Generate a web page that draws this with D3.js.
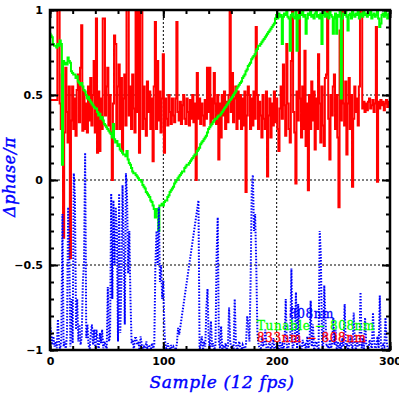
<!DOCTYPE html>
<html>
<head>
<meta charset="utf-8">
<script src="https://cdn.jsdelivr.net/npm/d3@7"></script>
<style>
body { margin: 0; background: #fff; }
svg { display: block; }
</style>
</head>
<body>
<script>
// phase differences in units of pi, stored as hundredths, one value per sample (0..300)
const red833 = [
  47,47,47,47,47,47,47,100,100,45,
  30,62,-34,28,66,40,22,55,-46,35,
  55,30,48,26,53,62,34,66,91,29,
  52,30,45,28,55,35,60,32,50,70,
  28,95,16,52,17,48,30,95,95,38,
  55,66,32,50,28,0,45,85,80,30,
  55,68,30,60,17,48,62,32,100,100,
  38,55,30,62,42,28,100,40,100,16,
  100,100,30,55,36,26,58,40,52,30,
  48,11,55,93,30,70,35,52,28,48,
  74,16,48,36,32,50,40,33,48,38,
  34,48,93,40,35,46,33,44,50,36,
  33,48,40,32,47,36,50,34,45,0,
  63,36,48,33,45,38,32,47,36,66,
  40,66,33,48,36,63,45,33,50,12,
  45,25,50,38,52,30,46,34,50,100,
  40,63,34,48,55,30,52,36,50,30,
  48,32,52,-7,38,55,50,30,48,32,
  52,36,90,50,30,46,38,25,50,36,
  30,52,2,38,48,25,45,32,52,34,
  48,30,17,42,55,36,68,44,26,80,
  45,30,22,70,100,40,28,-2,52,35,
  100,48,25,55,30,76,20,45,-6,50,
  30,58,35,52,18,48,30,74,45,22,
  55,32,20,60,62,100,36,12,50,38,
  55,62,30,50,25,-16,88,35,100,45,
  32,58,15,45,60,30,50,-4,36,55,
  40,48,32,55,100,100,42,46,40,45,
  41,46,48,42,44,47,40,45,90,-1,
  46,42,47,44,46,41,45,47,43,46,
  45
];
const greenTun = [
  86,85,84,80,79,79,78,80,79,82,
  80,9,70,68,69,68,72,70,69,64,
  63,62,62,60,61,58,57,56,57,55,
  53,52,50,48,49,47,46,45,44,43,
  42,42,40,38,39,36,37,35,33,32,
  31,30,29,28,27,25,33,24,22,23,
  20,21,18,17,16,15,15,14,17,12,
  10,9,7,5,4,4,3,2,1,0,
  0,-1,-3,-4,-5,-7,-8,-9,-10,-12,
  -13,-15,-17,-22,-17,-18,-30,-15,-15,-14,
  -15,-13,-12,-12,-10,-9,-7,-6,-5,-4,
  -2,-1,0,1,2,3,4,5,5,7,
  8,9,9,10,11,12,13,14,15,15,
  17,18,19,21,22,23,24,25,26,28,
  30,31,32,33,34,35,36,36,37,38,
  38,39,40,41,42,43,44,45,46,47,
  48,49,50,51,52,54,55,56,57,58,
  60,61,62,64,65,67,68,69,71,72,
  73,74,76,77,79,79,80,81,82,83,
  84,85,86,87,88,89,90,91,92,95,
  97,95,98,96,97,80,96,98,97,99,
  96,95,76,97,98,96,95,99,76,97,
  95,98,97,99,96,97,86,95,98,97,
  99,96,97,95,98,99,96,97,95,98,
  80,97,99,96,98,97,95,99,97,96,
  86,95,98,86,97,96,99,48,95,98,
  97,99,96,88,97,98,95,99,97,96,
  98,97,99,95,97,98,96,99,97,98,
  96,98,97,99,95,97,98,96,97,99,
  95,90,92,97,98,96,99,97,95,98,
  97
];
// null = no sample recorded
const blue808 = [
  -85,-90,-97,-92,-98,-95,-99,-82,-96,-100,
  -93,-20,-98,-95,-100,-90,-16,-40,-98,-70,
  -96,4,-10,-88,-70,-95,-85,-97,-92,-60,
  -49,16,-93,-85,-97,-100,-90,-85,-97,-88,
  -99,-88,-96,-100,-90,-96,-88,-99,-95,-97,
  -100,-63,-95,-92,-8,-70,-12,-50,-16,-30,
  -95,-8,-90,-60,-3,-40,-85,4,-10,-55,
  -30,-70,-96,-94,-100,-93,-93,-97,-95,-100,
  -92,-97,-100,-98,-99,-95,-100,-97,-98,-100,
  -96,-99,-97,-50,-30,-50,-16,-60,-50,-70,
  -59,-90,-98,-100,-96,-99,-100,-97,-100,-98,
  -99,-100,-96,-87,-91,null,null,null,null,null,
  null,null,null,null,null,null,null,null,null,null,
  null,-12,-100,-97,-92,-100,-95,-98,-75,-64,
  -93,-100,-83,-98,-96,-100,-97,-44,-22,-95,
  -99,-86,-100,-97,-99,-96,-100,-98,-75,-95,
  -99,-97,-100,-70,-96,-100,-98,-95,-99,-100,
  -97,-99,-100,-96,-80,-85,-95,-60,-6,3,
  -30,-20,-50,-90,-97,-99,-100,-92,-98,-96,
  -88,-99,-100,-97,-95,-100,-98,-93,-99,-100,
  -96,-98,-100,-94,-99,-97,-100,-95,-70,-98,
  -100,-96,-92,-52,-99,-97,-95,-66,-100,-73,
  -96,-99,-100,-94,-98,-97,-100,-92,-99,-96,
  -71,-98,-85,-100,-97,-95,-99,-100,-30,-45,
  -96,-100,-62,-80,-98,-97,-100,-94,-99,-96,
  -81,-97,-88,-100,-95,-99,-97,-100,-93,-98,
  -73,-99,-96,-100,-97,-92,-98,-99,-78,-96,
  -100,-95,-98,-97,-66,-99,-93,-100,-81,-96,
  -98,-100,-94,-97,-99,-78,-95,-100,-97,-92,
  -99,-68,-96,-100,-97,-98,-81,-95,-99,-100,
  -97
];
const xTicks = [0, 100, 200, 300];
const yTicks = [-1, -0.5, 0, 0.5, 1];
const yTickLabels = ["\u22121", "\u22120.5", "0", "0.5", "1"];
const xGridVals = [100, 200];
const yGridVals = [-0.5, 0, 0.5];
const legendNames = ["808nm", "Tunable \u2212 808nm", "833nm \u2212 808nm"];

const w = 399, h = 399;
const pLeft = 50, pRight = 390, pTop = 10, pBottom = 350;

var svg = d3.select("body").append("svg").attr("width", w).attr("height", h);

var xScale = d3.scaleLinear().domain([0, 300]).range([pLeft, pRight]);
var yScale = d3.scaleLinear().domain([-1, 1]).range([pBottom, pTop]);

svg.append("clipPath").attr("id", "plotclip")
  .append("rect").attr("x", pLeft).attr("y", pTop)
  .attr("width", pRight - pLeft).attr("height", pBottom - pTop);

// dotted grid
svg.selectAll(".xgrid").data(xGridVals).enter().append("line")
  .attr("x1", d => xScale(d)).attr("x2", d => xScale(d))
  .attr("y1", pTop).attr("y2", pBottom)
  .attr("stroke", "#000").attr("stroke-width", 1).attr("stroke-dasharray", "2,2");
svg.selectAll(".ygrid").data(yGridVals).enter().append("line")
  .attr("x1", pLeft).attr("x2", pRight)
  .attr("y1", d => yScale(d)).attr("y2", d => yScale(d))
  .attr("stroke", "#000").attr("stroke-width", 1).attr("stroke-dasharray", "2,2");

var plot = svg.append("g").attr("clip-path", "url(#plotclip)");

var stepLine = d3.line()
  .x((d, i) => xScale(i))
  .y(d => yScale(d / 100))
  .curve(d3.curveStep);

plot.append("path").datum(red833)
  .attr("d", stepLine)
  .attr("fill", "none").attr("stroke", "#ff0000").attr("stroke-width", 2);

plot.append("path").datum(greenTun)
  .attr("d", stepLine)
  .attr("fill", "none").attr("stroke", "#00ff00").attr("stroke-width", 2);

var bluePts = blue808.map((v, i) => [i, v]).filter(p => p[1] !== null);
var blueLine = d3.line()
  .x(p => xScale(p[0]))
  .y(p => yScale(p[1] / 100));

plot.append("path").datum(bluePts)
  .attr("d", blueLine)
  .attr("fill", "none").attr("stroke", "#0000ff").attr("stroke-width", 2)
  .attr("stroke-dasharray", "1.5,1.5");

// ticks on all four sides, pointing inward
function drawAxis(axis, tx, ty) {
  var g = svg.append("g").attr("transform", "translate(" + tx + "," + ty + ")").call(axis);
  g.select(".domain").remove();
  g.selectAll(".tick line").attr("stroke", "#000").attr("stroke-width", 2);
  g.selectAll("text")
    .attr("fill", "#000")
    .style("font-family", "'DejaVu Sans', sans-serif")
    .style("font-weight", "bold")
    .style("font-size", "11px");
  return g;
}
var xMinor = d3.range(0, 301, 20);
var yMinor = d3.range(-10, 11).map(d => d / 10);

drawAxis(d3.axisBottom(xScale).tickValues(xMinor).tickSize(-4).tickFormat(""), 0, pBottom);
drawAxis(d3.axisTop(xScale).tickValues(xMinor).tickSize(-4).tickFormat(""), 0, pTop);
drawAxis(d3.axisLeft(yScale).tickValues(yMinor).tickSize(-4).tickFormat(""), pLeft, 0);
drawAxis(d3.axisRight(yScale).tickValues(yMinor).tickSize(-4).tickFormat(""), pRight, 0);

drawAxis(d3.axisBottom(xScale).tickValues(xTicks).tickSize(-8).tickPadding(7).tickFormat(d => d), 0, pBottom);
drawAxis(d3.axisTop(xScale).tickValues(xTicks).tickSize(-8).tickFormat(""), 0, pTop);
drawAxis(d3.axisLeft(yScale).tickValues(yTicks).tickSize(-8).tickPadding(7)
  .tickFormat((d, i) => yTickLabels[i]), pLeft, 0);
drawAxis(d3.axisRight(yScale).tickValues(yTicks).tickSize(-8).tickFormat(""), pRight, 0);

// frame
svg.append("rect")
  .attr("x", pLeft).attr("y", pTop)
  .attr("width", pRight - pLeft).attr("height", pBottom - pTop)
  .attr("fill", "none").attr("stroke", "#000").attr("stroke-width", 2.5);

// axis titles
svg.append("text")
  .attr("x", (pLeft + pRight) / 2 + 2).attr("y", 388)
  .attr("text-anchor", "middle")
  .attr("fill", "#0000ff").attr("stroke", "#0000ff").attr("stroke-width", 0.4)
  .style("font-family", "'DejaVu Serif', serif")
  .style("font-style", "italic")
  .style("font-size", "17px")
  .style("letter-spacing", "0.6px")
  .text("Sample (12 fps)");

svg.append("text")
  .attr("transform", "translate(15,177) rotate(-90)")
  .attr("text-anchor", "middle")
  .attr("fill", "#0000ff").attr("stroke", "#0000ff").attr("stroke-width", 0.4)
  .style("font-family", "'DejaVu Serif', serif")
  .style("font-style", "italic")
  .style("font-size", "16px")
  .style("letter-spacing", "0.6px")
  .text("\u0394phase/\u03c0");

// legend
const legendColors = ["#0000ff", "#00ff00", "#ff0000"];
const legendX = [289, 257, 257];
svg.selectAll(".legend").data(legendNames).enter().append("text")
  .attr("x", (d, i) => legendX[i])
  .attr("y", (d, i) => 318 + i * 12)
  .attr("fill", (d, i) => legendColors[i])
  .attr("stroke", (d, i) => legendColors[i]).attr("stroke-width", 0.3)
  .style("font-family", "'DejaVu Serif', serif")
  .style("font-size", "12px")
  .style("letter-spacing", "0.6px")
  .text(d => d);
</script>
</body>
</html>
